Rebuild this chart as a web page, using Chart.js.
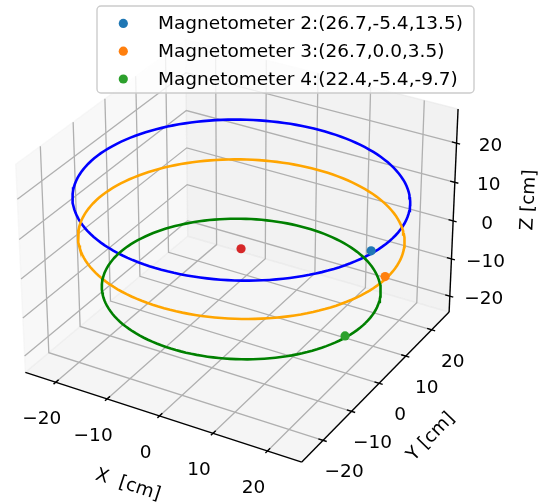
<!DOCTYPE html>
<html>
<head>
<meta charset="utf-8">
<script src="https://cdn.jsdelivr.net/npm/chart.js@4.4.0/dist/chart.umd.min.js"></script>
<style>
    html, body { margin: 0; padding: 0; background: #ffffff; }
</style>
</head>
<body>
<canvas id="chart1" width="538" height="503"></canvas>
<script>
// magnetometer positions [cm]
const magnetLabels = ['Magnetometer 2:(26.7,-5.4,13.5)', 'Magnetometer 3:(26.7,0.0,3.5)', 'Magnetometer 4:(22.4,-5.4,-9.7)']
const magnetX = [26.7, 26.7, 22.4]
const magnetY = [-5.4, 0.0, -5.4]
const magnetZ = [13.5, 3.5, -9.7]
const magnetColors = ['#1f77b4', '#ff7f0e', '#2ca02c']
const centerPoint = [0, 0, 0]
const centerColor = '#d62728'

// rings (horizontal circles around the z axis)
const ringRadius = [27.8, 27.1, 23.4]
const ringHeight = [13.5, 3.5, -9.7]
const ringColors = ['#0000ff', '#ffa500', '#008000']

// axes
const tickValues = [-20, -10, 0, 10, 20]
const tickLabels = ['\u221220', '\u221210', '0', '10', '20']
const xLim = [-26.0, 26.2]
const yLim = [-27.3, 26.9]
const zLim = [-24.3, 28.6]

// view (matplotlib default 3d camera)
const elev = 30 * Math.PI / 180
const azim = -60 * Math.PI / 180
const camDist = 10
const box = [4, 4, 3].map(a => a * 1.8294640721620434 / Math.hypot(4, 4, 3))

const dot = (a, b) => a[0] * b[0] + a[1] * b[1] + a[2] * b[2]
const cross = (a, b) => [a[1] * b[2] - a[2] * b[1], a[2] * b[0] - a[0] * b[2], a[0] * b[1] - a[1] * b[0]]
const wVec = [Math.cos(elev) * Math.cos(azim), Math.cos(elev) * Math.sin(azim), Math.sin(elev)]
const eye = box.map((b, i) => 0.5 * b + camDist * wVec[i])
let uVec = cross([0, 0, 1], wVec)
const uLen = Math.hypot(...uVec)
uVec = uVec.map(c => c / uLen)
const vVec = cross(wVec, uVec)

function project(x, y, z) {
    const n = [
        (x - xLim[0]) / (xLim[1] - xLim[0]) * box[0],
        (y - yLim[0]) / (yLim[1] - yLim[0]) * box[1],
        (z - zLim[0]) / (zLim[1] - zLim[0]) * box[2]
    ]
    const d = n.map((c, i) => c - eye[i])
    const depth = -dot(wVec, d)
    return { x: dot(uVec, d) / depth, y: dot(vVec, d) / depth }
}

function ring(i) {
    const pts = []
    for (let k = 0; k <= 160; k++) {
        const t = k / 160 * 2 * Math.PI
        pts.push(project(ringRadius[i] * Math.cos(t), ringRadius[i] * Math.sin(t), ringHeight[i]))
    }
    return pts
}

const datasets = []
magnetLabels.forEach((label, i) => {
    datasets.push({
        label: label,
        data: [project(magnetX[i], magnetY[i], magnetZ[i])],
        backgroundColor: magnetColors[i],
        borderColor: magnetColors[i],
        pointRadius: 4.6,
        pointHoverRadius: 4.6,
        borderWidth: 0,
        order: 0,
        clip: false
    })
})
datasets.push({
    label: 'center',
    data: [project(...centerPoint)],
    backgroundColor: centerColor,
    pointRadius: 4.6,
    borderWidth: 0,
    order: 0,
    clip: false
})
ringColors.forEach((c, i) => {
    datasets.push({
        label: 'ring' + i,
        data: ring(i),
        showLine: true,
        borderColor: c,
        borderWidth: 2.6,
        pointRadius: 0,
        fill: false,
        order: 3 - i,
        clip: false
    })
})

const originPx = [240.5, 240.9]
const pxPerUnit = 2820

const FONT = "18.5px 'DejaVu Sans'"

// panes, grid, axis lines, ticks and labels
const frame3d = {
    id: 'frame3d',
    beforeDatasetsDraw(chart) {
        const ctx = chart.ctx
        const sx = chart.scales.x
        const sy = chart.scales.y
        const toPx = (x, y, z) => {
            const p = project(x, y, z)
            return [sx.getPixelForValue(p.x), sy.getPixelForValue(p.y)]
        }
        const path = pts => {
            ctx.beginPath()
            pts.forEach((p, i) => {
                const q = toPx(...p)
                if (i) ctx.lineTo(q[0], q[1]); else ctx.moveTo(q[0], q[1])
            })
        }
        const [x0, x1] = xLim, [y0, y1] = yLim, [z0, z1] = zLim

        ctx.save()
        const panes = [
            { pts: [[x0, y0, z0], [x0, y1, z0], [x0, y1, z1], [x0, y0, z1]], c: 'rgba(242,242,242,0.5)' },
            { pts: [[x0, y1, z0], [x1, y1, z0], [x1, y1, z1], [x0, y1, z1]], c: 'rgba(230,230,230,0.5)' },
            { pts: [[x0, y0, z0], [x1, y0, z0], [x1, y1, z0], [x0, y1, z0]], c: 'rgba(236,236,236,0.5)' }
        ]
        panes.forEach(p => {
            path(p.pts)
            ctx.closePath()
            ctx.fillStyle = p.c
            ctx.fill()
            ctx.strokeStyle = p.c
            ctx.lineWidth = 1.4
            ctx.stroke()
        })

        ctx.strokeStyle = '#b0b0b0'
        ctx.lineWidth = 1.3
        tickValues.forEach(t => {
            path([[t, y0, z0], [t, y1, z0], [t, y1, z1]]); ctx.stroke()
            path([[x1, t, z0], [x0, t, z0], [x0, t, z1]]); ctx.stroke()
            path([[x0, y0, t], [x0, y1, t], [x1, y1, t]]); ctx.stroke()
        })

        ctx.strokeStyle = '#000000'
        ctx.lineWidth = 1.4
        path([[x0, y0, z0], [x1, y0, z0]]); ctx.stroke()
        path([[x1, y0, z0], [x1, y1, z0]]); ctx.stroke()
        path([[x1, y1, z0], [x1, y1, z1]]); ctx.stroke()

        const dx = (x1 - x0) / 12, dy = (y1 - y0) / 12
        tickValues.forEach(t => {
            path([[t, y0 - 0.15 * dy, z0], [t, y0 + 0.2 * dy, z0]]); ctx.stroke()
            path([[x1 + 0.15 * dx, t, z0], [x1 - 0.2 * dx, t, z0]]); ctx.stroke()
            path([[x1 + 0.15 * dx, y1, t], [x1 - 0.2 * dx, y1, t]]); ctx.stroke()
        })

        ctx.fillStyle = '#000000'
        ctx.font = FONT
        ctx.textAlign = 'center'
        ctx.textBaseline = 'middle'
        tickValues.forEach((t, i) => {
            let q = toPx(t, y0, z0)
            ctx.fillText(tickLabels[i], q[0] - 14, q[1] + 37)
            q = toPx(x1, t, z0)
            ctx.fillText(tickLabels[i], q[0] + 21, q[1] + 32)
            q = toPx(x1, y1, t)
            ctx.fillText(tickLabels[i], q[0] + 34, q[1] + 3)
        })

        const drawRot = (text, x, y, deg) => {
            ctx.save()
            ctx.translate(x, y)
            ctx.rotate(deg * Math.PI / 180)
            ctx.fillText(text, 0, 0)
            ctx.restore()
        }
        drawRot('X  [cm]', 128, 485, 18)
        drawRot('Y [cm]', 431, 437, -46)
        drawRot('Z [cm]', 529, 200, -87)
        ctx.restore()
    }
}

// legend box at the top
const legendBox = {
    id: 'legendBox',
    afterDraw(chart) {
        const ctx = chart.ctx
        ctx.save()
        const lx = 97, ly = 6, lw = 377, lh = 87, r = 4
        ctx.beginPath()
        ctx.roundRect(lx, ly, lw, lh, r)
        ctx.fillStyle = 'rgba(255,255,255,0.8)'
        ctx.fill()
        ctx.strokeStyle = '#cccccc'
        ctx.lineWidth = 1.4
        ctx.stroke()
        ctx.font = FONT
        ctx.textAlign = 'left'
        ctx.textBaseline = 'alphabetic'
        magnetLabels.forEach((label, i) => {
            const yy = 23.4 + i * 27.8
            ctx.beginPath()
            ctx.arc(123.3, yy, 4.6, 0, 2 * Math.PI)
            ctx.fillStyle = magnetColors[i]
            ctx.fill()
            ctx.fillStyle = '#000000'
            ctx.fillText(label, 158, yy + 5.5)
        })
        ctx.restore()
    }
}

const ctx1 = document.querySelector('#chart1').getContext('2d')
const chart1 = new Chart(ctx1, {
    type: 'scatter',
    data: { datasets: datasets },
    options: {
        responsive: false,
        animation: false,
        devicePixelRatio: 1,
        layout: { padding: 0 },
        plugins: { legend: { display: false }, tooltip: { enabled: false } },
        scales: {
            x: { type: 'linear', display: false, min: -originPx[0] / pxPerUnit, max: (538 - originPx[0]) / pxPerUnit },
            y: { type: 'linear', display: false, min: -(503 - originPx[1]) / pxPerUnit, max: originPx[1] / pxPerUnit }
        }
    },
    plugins: [frame3d, legendBox]
})
</script>
</body>
</html>
